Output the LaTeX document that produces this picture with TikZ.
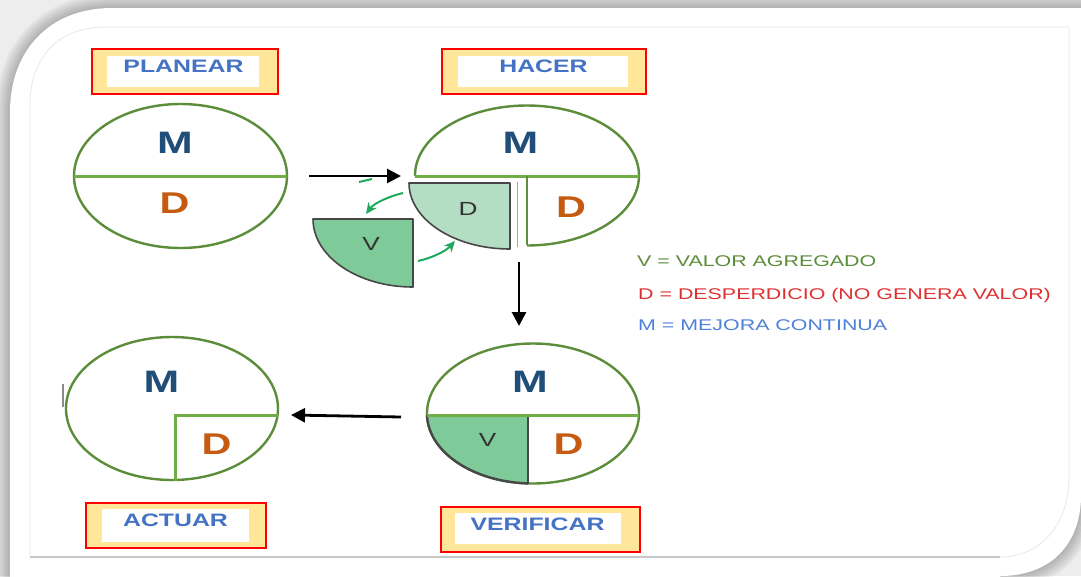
\documentclass[tikz,border=0pt]{standalone}
\usepackage{fontspec}
\usetikzlibrary{arrows.meta}
\newfontfamily\wide[FakeStretch=1.38]{Liberation Sans}

\definecolor{ring}{HTML}{5B8D3B}
\definecolor{split}{HTML}{70AD47}
\definecolor{mblue}{HTML}{1F4E79}
\definecolor{dorange}{HTML}{C55A11}
\definecolor{tagblue}{HTML}{4472C4}
\definecolor{tagfill}{HTML}{FFE699}
\definecolor{waste}{HTML}{B4DEC3}
\definecolor{value}{HTML}{7FCA99}
\definecolor{flow}{HTML}{1DAA5C}
\definecolor{legV}{HTML}{5B8D3B}
\definecolor{legD}{HTML}{E03131}
\definecolor{legM}{HTML}{4F81D8}

\tikzset{
  tagouter/.style={draw=red, line width=1.2pt, fill=tagfill, inner sep=0pt},
  tagtext/.style={font=\wide\bfseries\fontsize{18}{20}\selectfont, text=tagblue, inner sep=0pt},
  bigM/.style={font=\wide\bfseries\fontsize{31}{34}\selectfont, text=mblue, inner sep=0pt},
  bigD/.style={font=\wide\bfseries\fontsize{30}{33}\selectfont, text=dorange, inner sep=0pt},
  small/.style={font=\wide\fontsize{19}{21}\selectfont, text=black!80, inner sep=0pt},
  rim/.style={draw=ring, line width=2.4pt},
  divide/.style={draw=split, line width=3pt},
  piece/.style={draw=black!72, line width=1.6pt, line join=round},
  pdca/.style={line width=2.8pt, -{Triangle[length=14pt,width=14pt]}},
  swap/.style={draw=flow, line width=2pt, -{Stealth[length=11pt,width=10pt]}},
  legend/.style={font=\wide\fontsize{15.5}{17}\selectfont, anchor=base west, inner sep=0pt}
}

\begin{document}
\begin{tikzpicture}[x=1pt, y=-1pt]
\useasboundingbox (0,0) rectangle (1081,576);

% backdrop and soft shadow round the card
\fill[black!7] (0,0) rectangle (1081,576);
\foreach \w in {28,24,20,16,12,8,4}
  \draw[line width=\w pt, black, opacity=0.035]
    (10,600) -- (10,112) .. controls (10,50) and (50,8) .. (112,8) -- (1100,8)
    -- (1100,495);
\foreach \w in {28,24,20,16,12,8,4}
  \draw[line width=\w pt, black, opacity=0.035]
    (1081,495) .. controls (1081,545) and (1050,576) .. (1000,576);
% white card
\fill[white] (10,590) -- (10,112) .. controls (10,50) and (50,8) .. (112,8)
  -- (1090,8) -- (1090,495) -- (1081,495) .. controls (1081,545) and (1050,576) .. (1000,576)
  -- (1000,590) -- cycle;
% thin inner frame
\draw[black!9, line width=0.8pt] (30,557) -- (30,105) .. controls (30,58) and (58,27) .. (105,27)
  -- (1069,27) -- (1069,477) .. controls (1069,525) and (1040,557) .. (1000,557);
\draw[black!22, line width=1.6pt] (30,557) -- (1000,557);

% ---------- stage tags ----------
\node[tagouter, minimum width=186pt, minimum height=45pt] (planbox) at (185,71.5) {};
\fill[white] (107,56) rectangle (259,87);
\node[tagtext] (plantxt) at (183.5,66.5) {PLANEAR};

\node[tagouter, minimum width=204pt, minimum height=45pt] (hacbox) at (544,71.5) {};
\fill[white] (458,56) rectangle (628,87);
\node[tagtext] (hactxt) at (543.5,66) {HACER};

\node[tagouter, minimum width=199pt, minimum height=45pt] (verbox) at (540.5,529.5) {};
\fill[white] (455,513) rectangle (621,544);
\node[tagtext] (vertxt) at (537.5,524) {VERIFICAR};

\node[tagouter, minimum width=180pt, minimum height=45pt] (actbox) at (176,525.5) {};
\fill[white] (102,509) rectangle (249,542);
\node[tagtext] (acttxt) at (175.5,520) {ACTUAR};

% ---------- PLANEAR ----------
\draw[rim] (180.5,176) ellipse [x radius=106.5pt, y radius=72pt];
\draw[divide] (74,176) -- (287,176);
\node[bigM] (planM) at (175,142.5) {M};
\node[bigD] (planD) at (174.5,203) {D};

% ---------- HACER ----------
\begin{scope}
  \clip (400,90) -- (660,90) -- (660,260) -- (527,260) -- (527,176) -- (400,176) -- cycle;
  \draw[rim] (527,175.5) ellipse [x radius=112pt, y radius=70pt];
\end{scope}
\draw[divide] (415,176) -- (639,176);
\draw[rim] (527,176) -- (527,245);
\draw[black!35, line width=1pt] (517,182) -- (517,247);
\node[bigM] (hacM) at (520.5,142.5) {M};
\node[bigD] (hacD) at (571,207) {D};

% waste slice lifted out of the circle
\filldraw[piece, fill=waste] (409,183) -- (510,183) -- (510,249)
  .. controls (454.2,249) and (409,219.5) .. (409,183) -- cycle;
\node[small] (wasteD) at (468,209) {D};

% value slice taking its place
\filldraw[piece, fill=value] (313,219) -- (413,219) -- (413,287)
  .. controls (357.8,287) and (313,256.6) .. (313,219) -- cycle;
\node[small] (valueV) at (371,243.5) {V};

% exchange arrows between the slices
\coordinate (sw1a) at (403,193);
\coordinate (sw1b) at (366,214);
\coordinate (sw2a) at (418,261);
\coordinate (sw2b) at (455,241);
\draw[swap] (sw1a) .. controls (390,196) and (374,203) .. (sw1b);
\draw[swap] (sw2a) .. controls (432,258) and (446,251) .. (sw2b);
\draw[draw=flow, line width=2pt] (359,182) -- (372,179);

% ---------- VERIFICAR ----------
\draw[rim] (533,413.5) ellipse [x radius=106pt, y radius=70pt];
\begin{scope}
  \clip (420,415) rectangle (528,495);
  \fill[value] (533,413.5) ellipse [x radius=106pt, y radius=70pt];
  \draw[black!72, line width=2.4pt] (533,413.5) ellipse [x radius=106pt, y radius=70pt];
\end{scope}
\draw[piece] (528,415) -- (528,483.5);
\draw[divide] (427,415) -- (639,415);
\node[bigM] (verM) at (530,382) {M};
\node[bigD] (verD) at (568.5,444) {D};
\node[small] (verV) at (487.5,439.5) {V};

% ---------- ACTUAR ----------
\draw[rim] (172,408.5) ellipse [x radius=106pt, y radius=71.5pt];
\draw[divide] (175,480.5) -- (175,415) -- (277.5,415);
\draw[black!45, line width=1.5pt] (63,384) -- (63,407);
\node[bigM] (actM) at (161.5,382) {M};
\node[bigD] (actD) at (216.5,444.5) {D};

% ---------- cycle arrows ----------
\coordinate (planOut) at (309,176);
\coordinate (hacIn) at (401,176);
\coordinate (hacOut) at (519,262);
\coordinate (verIn) at (519,326);
\coordinate (verOut) at (401,417);
\coordinate (actIn) at (291,415);
\draw[pdca] (planOut) -- (hacIn);
\draw[pdca] (hacOut) -- (verIn);
\draw[pdca] (verOut) -- (actIn);

% ---------- legend ----------
\node[legend, text=legV] (legendV) at (637,266) {V = VALOR AGREGADO};
\node[legend, text=legD] (legendD) at (638,299) {D = DESPERDICIO (NO GENERA VALOR)};
\node[legend, text=legM] (legendM) at (638,330) {M = MEJORA CONTINUA};
\end{tikzpicture}
\end{document}
